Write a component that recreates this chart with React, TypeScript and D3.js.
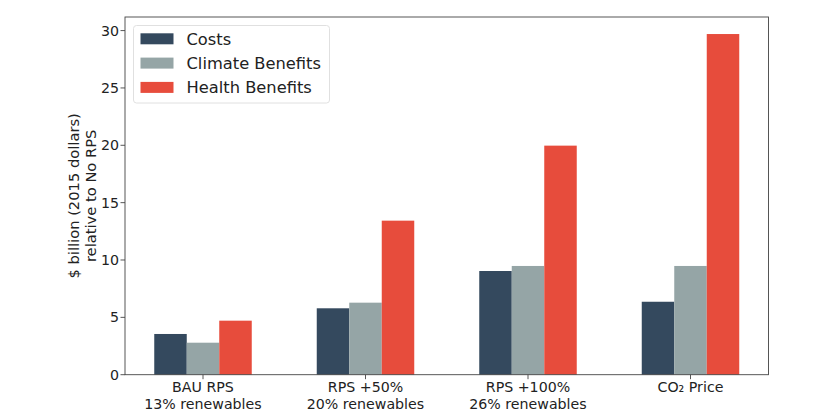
import React from "react";
import * as d3 from "d3";

const categories = ["BAU RPS\n13% renewables", "RPS +50%\n20% renewables", "RPS +100%\n26% renewables", "CO₂ Price"];
const seriesNames = ["Costs", "Climate Benefits", "Health Benefits"];
const costs = [3.55, 5.79, 9.04, 6.36];
const climate = [2.79, 6.28, 9.48, 9.48];
const health = [4.71, 13.43, 19.97, 29.7];
const colors = ["#34495e", "#95a5a6", "#e74c3c"];
const yTicks = [0, 5, 10, 15, 20, 25, 30];

const W = 832, H = 418;
const left = 125, right = 768.5, top = 17, bottom = 374.7;
const FONT = "DejaVu Sans, sans-serif";

export default function App() {
  const series = [costs, climate, health];
  const x = d3.scaleLinear().domain([-0.48, 3.48]).range([left, right]);
  const yMax = 29.7 * 1.05;
  const y = d3.scaleLinear().domain([0, yMax]).range([bottom, top]);
  const barW = 0.2;
  return (
    <svg width={W} height={H} style={{ position: "absolute", left: 0, top: 0, background: "#fff" }}>
      {series.map((vals, s) =>
        vals.map((v, i) => {
          const cx = i + (s - 1) * barW;
          const x0 = x(cx - barW / 2), x1 = x(cx + barW / 2);
          return <rect key={s + "-" + i} x={x0} y={y(v)} width={x1 - x0} height={y(0) - y(v)} fill={colors[s]} />;
        })
      )}
      <rect x={left} y={top} width={right - left} height={bottom - top} fill="none" stroke="#444" strokeWidth={0.9} />
      {yTicks.map((t) => (
        <g key={t}>
          <line x1={left - 4.5} x2={left} y1={y(t)} y2={y(t)} stroke="#444" strokeWidth={0.9} />
          <text x={left - 6} y={y(t)} dy="0.36em" textAnchor="end" fontFamily={FONT} fontSize={14.2} fill="#222">{t}</text>
        </g>
      ))}
      {categories.map((c, i) => (
        <g key={i}>
          <line x1={x(i)} x2={x(i)} y1={bottom} y2={bottom + 4.5} stroke="#444" strokeWidth={0.9} />
          {c.split("\n").map((ln, k) => (
            <text key={k} x={x(i)} y={bottom + 17.5 + k * 16.3} textAnchor="middle" fontFamily={FONT} fontSize={14.2} fill="#222">{ln}</text>
          ))}
        </g>
      ))}
      <g transform={`translate(79, ${(top + bottom) / 2}) rotate(-90)`}>
        <text x={0} y={0} textAnchor="middle" fontFamily={FONT} fontSize={14.7} fill="#222">$ billion (2015 dollars)</text>
        <text x={0} y={17} textAnchor="middle" fontFamily={FONT} fontSize={14.7} fill="#222">relative to No RPS</text>
      </g>
      <rect x={133.5} y={25.5} width={196} height={77.5} rx={3} fill="#fff" fillOpacity={0.8} stroke="#ddd" strokeWidth={0.9} />
      {seriesNames.map((n, k) => (
        <g key={n}>
          <rect x={140.5} y={33.3 + k * 24.3} width={33} height={11} fill={colors[k]} />
          <text x={186.5} y={39 + k * 24.3} dy="0.36em" fontFamily={FONT} fontSize={16.3} fill="#222">{n}</text>
        </g>
      ))}
    </svg>
  );
}
